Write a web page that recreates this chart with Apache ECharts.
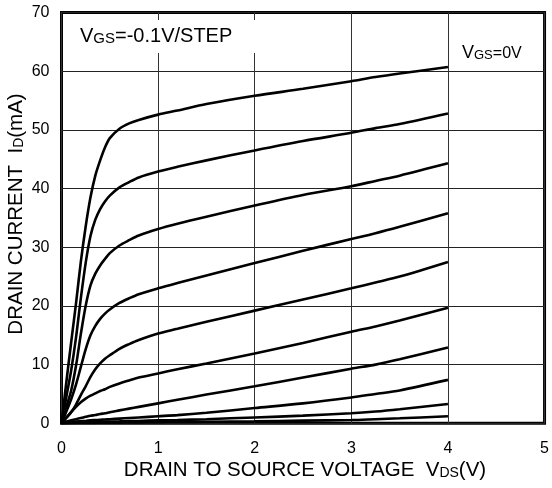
<!DOCTYPE html>
<html>
<head>
<meta charset="utf-8">
<script src="https://cdn.jsdelivr.net/npm/echarts@6/dist/echarts.min.js"></script>
<style>
html,body{margin:0;padding:0;background:#fff;}
#chart{width:552px;height:488px;}
</style>
</head>
<body>
<div id="chart"></div>
<script>
// Drain-source voltage sample points (V)
var vds = [0, 0.05, 0.1, 0.15, 0.2, 0.25, 0.3, 0.35, 0.4, 0.45, 0.5, 0.6, 0.7, 0.8, 1.0, 1.2, 1.5, 2.0, 2.5, 3.0, 3.25, 3.5, 4.0];
// Drain current (mA), VGS = 0 V down in -0.1 V steps
var id0  = [0, 7.0, 13.8, 20.4, 27.5, 33.5, 38.5, 42.2, 44.8, 47.0, 48.6, 50.2, 51.1, 51.7, 52.6, 53.3, 54.4, 55.8, 57.0, 58.3, 59.0, 59.6, 60.7];
var id1  = [0, 4.5, 9.0, 14.6, 21.3, 27.3, 31.9, 34.7, 36.5, 37.8, 38.8, 40.2, 41.1, 41.9, 42.9, 43.7, 44.8, 46.5, 48.1, 49.5, 50.3, 51.0, 52.8];
var id2  = [0, 2.8, 5.6, 9.8, 15.2, 20.0, 23.5, 25.5, 26.9, 28.0, 29.0, 30.3, 31.2, 32.0, 33.1, 34.0, 35.2, 37.1, 38.9, 40.4, 41.3, 42.2, 44.3];
var id3  = [0, 2.0, 4.1, 6.6, 9.6, 12.6, 15.0, 16.6, 17.8, 18.7, 19.4, 20.5, 21.3, 22.0, 23.0, 23.9, 25.2, 27.3, 29.4, 31.4, 32.4, 33.5, 35.8];
var id4  = [0, 1.0, 1.9, 3.2, 4.8, 6.3, 7.9, 9.2, 10.2, 11.0, 11.6, 12.7, 13.5, 14.2, 15.3, 16.1, 17.3, 19.2, 21.1, 23.0, 24.0, 25.0, 27.5];
var id5  = [0, 0.9, 1.9, 2.8, 3.6, 4.2, 4.7, 5.1, 5.5, 5.8, 6.2, 6.8, 7.3, 7.8, 8.5, 9.2, 10.2, 11.9, 13.7, 15.6, 16.5, 17.5, 19.7];
var id6  = [0, 0.3, 0.5, 0.7, 0.9, 1.1, 1.3, 1.4, 1.6, 1.7, 1.9, 2.2, 2.5, 2.8, 3.4, 4.0, 4.9, 6.3, 7.8, 9.3, 10.0, 10.9, 12.9];
var id7  = [0, 0.1, 0.2, 0.3, 0.35, 0.4, 0.5, 0.55, 0.6, 0.65, 0.7, 0.8, 0.9, 1.0, 1.2, 1.4, 1.8, 2.6, 3.4, 4.4, 5.0, 5.6, 7.4];
var id8  = [0, 0.05, 0.1, 0.15, 0.18, 0.2, 0.22, 0.25, 0.27, 0.28, 0.3, 0.33, 0.37, 0.4, 0.5, 0.55, 0.7, 1.0, 1.3, 1.7, 2.0, 2.4, 3.3];
var id9  = [0, 0.02, 0.03, 0.04, 0.05, 0.06, 0.07, 0.08, 0.09, 0.1, 0.1, 0.12, 0.14, 0.16, 0.2, 0.22, 0.27, 0.35, 0.45, 0.55, 0.7, 0.85, 1.2];
var curves = [id0, id1, id2, id3, id4, id5, id6, id7, id8, id9];
var xTicks = [0, 1, 2, 3, 4, 5];
var yTicks = [0, 10, 20, 30, 40, 50, 60, 70];

var FONT = '"Liberation Sans", Arial, sans-serif';

var series = curves.map(function (c) {
  return {
    type: 'line',
    data: vds.map(function (v, i) { return [v, c[i]]; }),
    showSymbol: false,
    smooth: 0.3,
    lineStyle: { color: '#000', width: 2.6 },
    silent: true,
    animation: false
  };
});

var chart = echarts.init(document.getElementById('chart'), null, { renderer: 'canvas' });
chart.setOption({
  animation: false,
  backgroundColor: '#fff',
  grid: {
    left: 61.5, top: 12.5, right: 3, bottom: 64.7,
    show: true, borderColor: '#000', borderWidth: 3, backgroundColor: 'transparent'
  },
  xAxis: {
    type: 'value', min: xTicks[0], max: xTicks[xTicks.length - 1], interval: 1,
    axisLine: { show: false }, axisTick: { show: false },
    axisLabel: { color: '#000', fontSize: 16, fontFamily: FONT, margin: 17 },
    splitLine: { show: true, lineStyle: { color: '#333', width: 1 } }
  },
  yAxis: {
    type: 'value', min: yTicks[0], max: yTicks[yTicks.length - 1], interval: 10,
    axisLine: { show: false }, axisTick: { show: false },
    axisLabel: { color: '#000', fontSize: 16, fontFamily: FONT, margin: 12 },
    splitLine: { show: true, lineStyle: { color: '#222', width: 1 } }
  },
  graphic: [
    { type: 'rect', z: 100, shape: { x: 66, y: 20, width: 196, height: 33 }, style: { fill: '#fff' } },
    {
      type: 'text', z: 101, x: 80, y: 36,
      style: {
        text: '{a|V}{b|GS}{a|=-0.1V/STEP}',
        verticalAlign: 'middle', align: 'left',
        rich: {
          a: { fontSize: 20, lineHeight: 20, fontFamily: FONT, fill: '#000', verticalAlign: 'bottom' },
          b: { fontSize: 15, lineHeight: 15, fontFamily: FONT, fill: '#000', verticalAlign: 'bottom' }
        }
      }
    },
    {
      type: 'text', z: 101, x: 462, y: 53,
      style: {
        text: '{a|V}{b|GS}{c|=0V}',
        verticalAlign: 'middle', align: 'left',
        rich: {
          a: { fontSize: 18, lineHeight: 18, fontFamily: FONT, fill: '#000', verticalAlign: 'bottom' },
          b: { fontSize: 13, lineHeight: 13, fontFamily: FONT, fill: '#000', verticalAlign: 'bottom' },
          c: { fontSize: 16, lineHeight: 16, fontFamily: FONT, fill: '#000', verticalAlign: 'bottom' }
        }
      }
    },
    {
      type: 'text', z: 101, x: 305, y: 470,
      style: {
        text: '{a|DRAIN TO SOURCE VOLTAGE  V}{b|DS}{a|(V)}',
        verticalAlign: 'middle', align: 'center',
        rich: {
          a: { fontSize: 20.5, lineHeight: 21, fontFamily: FONT, fill: '#000', verticalAlign: 'bottom' },
          b: { fontSize: 14, lineHeight: 14, fontFamily: FONT, fill: '#000', verticalAlign: 'bottom' }
        }
      }
    },
    {
      type: 'text', z: 101, x: 16, y: 214, rotation: Math.PI / 2,
      style: {
        text: '{a|DRAIN CURRENT  I}{b|D}{a|(mA)}',
        verticalAlign: 'middle', align: 'center',
        rich: {
          a: { fontSize: 20.5, lineHeight: 21, fontFamily: FONT, fill: '#000', verticalAlign: 'bottom' },
          b: { fontSize: 14, lineHeight: 14, fontFamily: FONT, fill: '#000', verticalAlign: 'bottom' }
        }
      }
    }
  ],
  series: series
});
</script>
</body>
</html>
